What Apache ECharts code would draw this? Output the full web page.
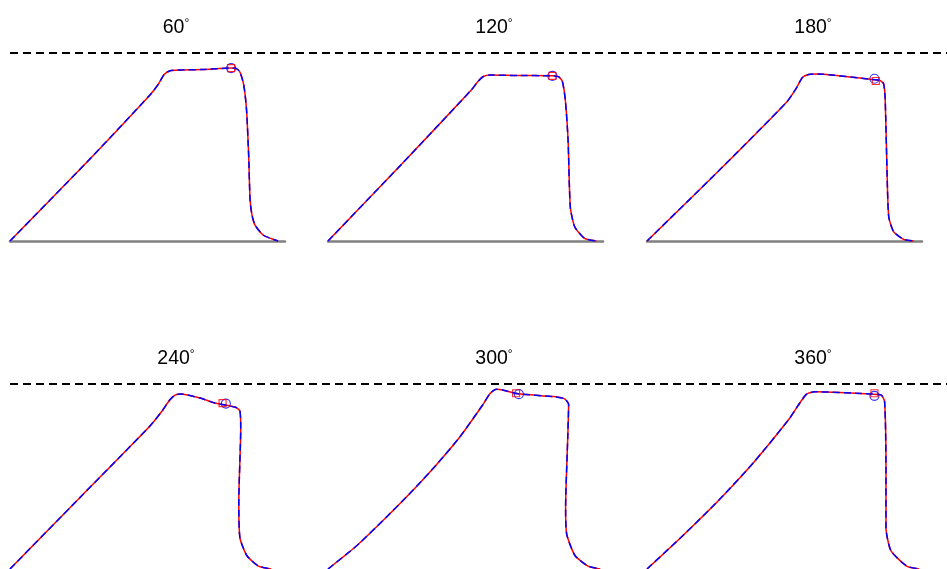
<!DOCTYPE html>
<html>
<head>
<meta charset="utf-8">
<script src="https://cdn.jsdelivr.net/npm/echarts@6/dist/echarts.min.js"></script>
<style>
  html, body { margin: 0; padding: 0; background: #fff; }
  #chart { width: 947px; height: 569px; }
</style>
</head>
<body>
<div id="chart"></div>
<script>
// panel titles (degrees)
const panelTitles = ['60', '120', '180', '240', '300', '360'];

// normalised profiles, x = 0..1 along the panel, y = 1 at the dashed reference level
const curve60 = [[0,0],[0.280,0.420],[0.509,0.777],[0.540,0.835],[0.560,0.885],[0.582,0.906],[0.620,0.910],[0.700,0.912],[0.804,0.920],[0.822,0.918],[0.836,0.899],[0.850,0.830],[0.860,0.700],[0.868,0.450],[0.873,0.218],[0.880,0.138],[0.891,0.085],[0.920,0.032],[0.953,0.011],[0.975,0]];
const curve120 = [[0,0],[0.270,0.412],[0.521,0.803],[0.545,0.848],[0.565,0.875],[0.590,0.883],[0.691,0.880],[0.812,0.879],[0.838,0.874],[0.852,0.850],[0.863,0.750],[0.873,0.537],[0.881,0.182],[0.897,0.076],[0.933,0.014],[0.976,0]];
const curve180 = [[0,0],[0.260,0.372],[0.509,0.741],[0.545,0.818],[0.565,0.870],[0.588,0.886],[0.620,0.888],[0.812,0.860],[0.845,0.855],[0.860,0.838],[0.866,0.760],[0.873,0.360],[0.879,0.129],[0.897,0.049],[0.933,0.009],[0.970,0]];
const curve240 = [[0,0],[0.260,0.395],[0.509,0.773],[0.555,0.858],[0.580,0.912],[0.600,0.940],[0.620,0.946],[0.691,0.924],[0.745,0.897],[0.820,0.874],[0.836,0.855],[0.839,0.760],[0.832,0.365],[0.836,0.170],[0.861,0.073],[0.903,0.016],[0.950,0]];
const curve300 = [[0,0],[0.100,0.120],[0.200,0.262],[0.300,0.412],[0.392,0.560],[0.480,0.715],[0.563,0.888],[0.590,0.950],[0.612,0.972],[0.635,0.968],[0.691,0.947],[0.820,0.932],[0.860,0.920],[0.875,0.890],[0.872,0.720],[0.864,0.330],[0.868,0.188],[0.898,0.073],[0.945,0.016],[0.990,0]];
const curve360 = [[0,0],[0.130,0.180],[0.260,0.370],[0.390,0.580],[0.516,0.809],[0.550,0.885],[0.580,0.945],[0.610,0.958],[0.801,0.947],[0.851,0.941],[0.864,0.905],[0.869,0.543],[0.869,0.223],[0.887,0.099],[0.944,0.016],[0.990,0]];
const curves = [curve60, curve120, curve180, curve240, curve300, curve360];

// marker points (blue circle / red square)
const circlePts = [[0.804,0.920],[0.816,0.878],[0.827,0.863],[0.785,0.894],[0.694,0.945],[0.827,0.936]];
const squarePts = [[0.804,0.920],[0.816,0.878],[0.832,0.851],[0.773,0.897],[0.684,0.950],[0.827,0.950]];

// reference level drawn across each row
const refLine = [[0,1],[1,1]];

const panelLeft = [10, 328, 647];
const rowTop = [53, 384];
const panelW = 275, panelH = 188;

let chart = echarts.init(document.getElementById('chart'));

let grid = [], xAxis = [], yAxis = [], series = [], title = [];

for (let i = 0; i < 6; i++) {
  let col = i % 3, row = Math.floor(i / 3);
  grid.push({left: panelLeft[col], top: rowTop[row], width: panelW, height: panelH});
  xAxis.push({
    gridIndex: i, type: 'value', min: 0, max: 1,
    // bottom row baseline falls below the picture
    axisLine: {show: row === 0, lineStyle: {color: '#808080', width: 2.5}},
    axisTick: {show: false}, axisLabel: {show: false}, splitLine: {show: false}
  });
  yAxis.push({
    gridIndex: i, type: 'value', min: 0, max: 1, show: false,
    splitLine: {show: false}
  });
  series.push({
    type: 'line', xAxisIndex: i, yAxisIndex: i, data: curves[i],
    showSymbol: false, smooth: 0.2, clip: false,
    lineStyle: {color: '#ff0000', width: 1.5}
  });
  series.push({
    type: 'line', xAxisIndex: i, yAxisIndex: i, data: curves[i],
    showSymbol: false, smooth: 0.2, clip: false,
    lineStyle: {color: '#0000ff', width: 1.5, type: [7, 4]}
  });
  series.push({
    type: 'scatter', xAxisIndex: i, yAxisIndex: i, data: [circlePts[i]],
    symbol: 'circle', symbolSize: 9, clip: false,
    itemStyle: {color: 'transparent', borderColor: '#0000ff', borderWidth: 1.2}
  });
  series.push({
    type: 'scatter', xAxisIndex: i, yAxisIndex: i, data: [squarePts[i]],
    symbol: 'rect', symbolSize: 7, clip: false,
    itemStyle: {color: 'transparent', borderColor: '#ff0000', borderWidth: 1.2}
  });
  title.push({
    text: panelTitles[i] + '{d|°}',
    left: panelLeft[col] + 161,
    top: row === 0 ? 13 : 344,
    textAlign: 'center',
    textStyle: {
      fontFamily: 'Liberation Sans', fontSize: 19.5, fontWeight: 'normal', color: '#000',
      rich: {d: {fontFamily: 'Liberation Sans', fontSize: 12, verticalAlign: 'top', color: '#000'}}
    }
  });
}

// dashed reference line for each row, from the left edge of the first panel to the right border
for (let r = 0; r < 2; r++) {
  let gi = 6 + r;
  grid.push({left: panelLeft[0], right: 0, top: rowTop[r], height: panelH});
  xAxis.push({gridIndex: gi, type: 'value', min: 0, max: 1, show: false, splitLine: {show: false}});
  yAxis.push({gridIndex: gi, type: 'value', min: 0, max: 1, show: false, splitLine: {show: false}});
  series.push({
    type: 'line', xAxisIndex: gi, yAxisIndex: gi, data: refLine,
    showSymbol: false, clip: false, z: 1,
    lineStyle: {color: '#000', width: 1.8, type: [8, 5]}
  });
}

option = {
  animation: false,
  backgroundColor: '#fff',
  title: title,
  grid: grid,
  xAxis: xAxis,
  yAxis: yAxis,
  series: series
};
chart.setOption(option);
</script>
</body>
</html>
